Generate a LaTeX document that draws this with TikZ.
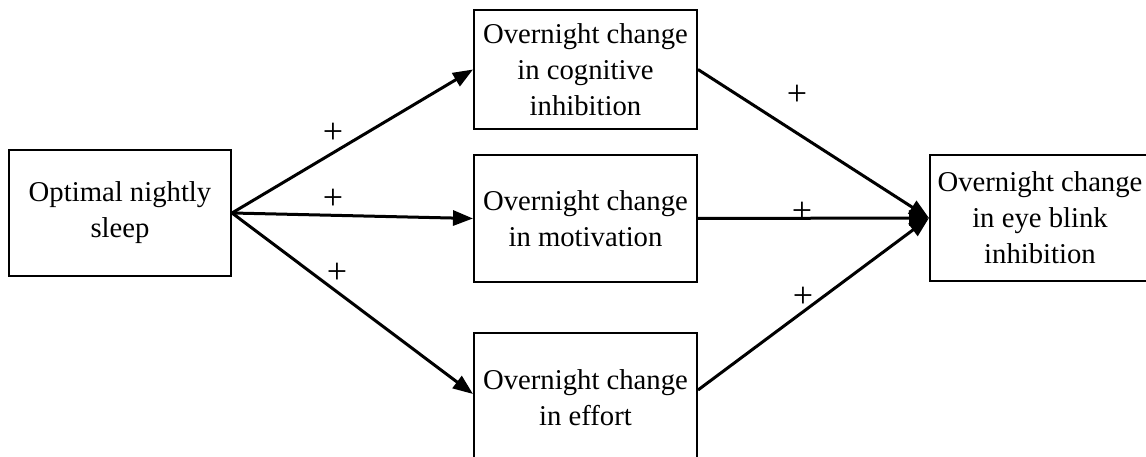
\documentclass[tikz,border=0pt]{standalone}
\usepackage{fontspec}
\setmainfont{Liberation Serif}
\usetikzlibrary{arrows.meta}
\begin{document}
\begin{tikzpicture}[x=1pt,y=1pt,
  box/.style={draw,line width=2pt,rectangle,align=center,inner sep=0pt,
    font=\fontsize{28.7}{36}\selectfont},
  conn/.style={line width=3pt,-{Triangle[length=20pt,width=15pt]}},
  plus/.style={font=\fontsize{36}{40}\selectfont,inner sep=0pt}]
\useasboundingbox (0,0) rectangle (1146,457);
\clip (0,0) rectangle (1146,457);
\node[box,minimum width=222pt,minimum height=126pt] (sleep) at (120,244) {Optimal nightly\\sleep};
\node[box,minimum width=223pt,minimum height=119pt] (cog) at (585.5,387.5) {Overnight change\\in cognitive\\inhibition};
\node[box,minimum width=223pt,minimum height=127pt] (mot) at (585.5,238.5) {Overnight change\\in motivation};
\node[box,minimum width=223pt,minimum height=130pt] (eff) at (585.5,59) {Overnight change\\in effort};
\node[box,minimum width=220pt,minimum height=126pt] (blink) at (1040,239) {Overnight change\\in eye blink\\inhibition};
\coordinate (effin) at ([yshift=4pt]eff.west);
\coordinate (effout) at ([yshift=8pt]eff.east);
\draw[conn] (sleep.east) -- (cog.west);
\draw[conn] (sleep.east) -- (mot.west);
\draw[conn] (sleep.east) -- (effin);
\draw[conn] (cog.east) -- (blink.west);
\draw[conn] (mot.east) -- (blink.west);
\draw[conn] (effout) -- (blink.west);
\node[plus] (p1) at (333,324) {+};
\node[plus] (p2) at (333,258) {+};
\node[plus] (p3) at (337,184) {+};
\node[plus] (p4) at (797,362) {+};
\node[plus] (p5) at (802,245) {+};
\node[plus] (p6) at (803,160) {+};
\end{tikzpicture}
\end{document}
